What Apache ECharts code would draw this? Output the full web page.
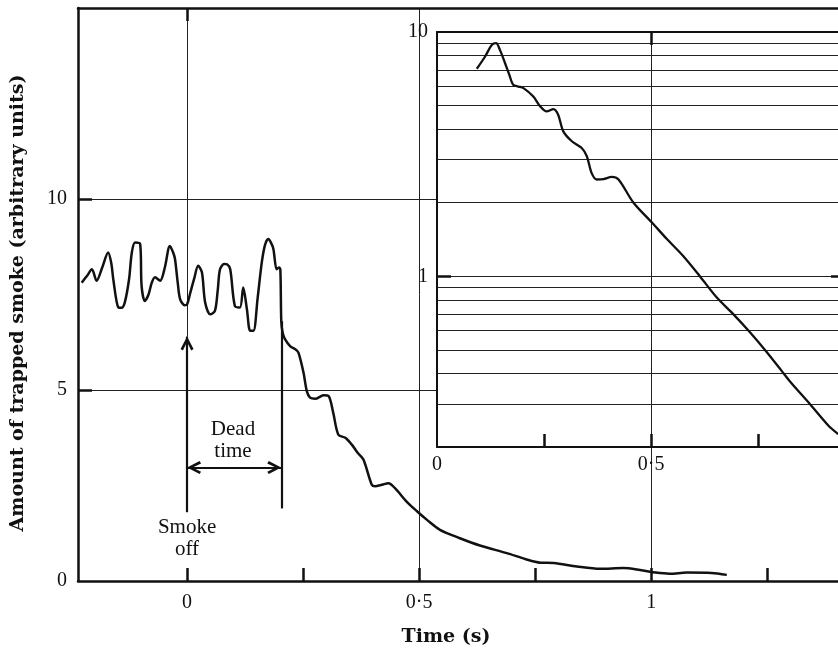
<!DOCTYPE html>
<html><head><meta charset="utf-8">
<script src="https://cdn.jsdelivr.net/npm/echarts@6/dist/echarts.min.js"></script>
<style>html,body{margin:0;padding:0;background:#fff}#c{width:838px;height:655px}</style>
</head><body><div id="c"></div>
<script>
// ---- main trace (linear scale) ----
const mainTime = [-0.227,-0.215,-0.205,-0.195,-0.183,-0.170,-0.163,-0.159,-0.148,-0.141,-0.134,-0.125,-0.119,-0.112,-0.101,-0.098,-0.091,-0.083,-0.076,-0.069,-0.058,-0.048,-0.037,-0.030,-0.026,-0.020,-0.015,-0.005,0.000,0.006,0.015,0.024,0.032,0.039,0.050,0.060,0.066,0.071,0.080,0.086,0.093,0.103,0.114,0.121,0.129,0.136,0.143,0.152,0.161,0.168,0.175,0.181,0.186,0.193,0.198,0.201,0.203,0.206,0.211,0.222,0.233,0.240,0.251,0.258,0.265,0.276,0.294,0.305,0.315,0.326,0.341,0.355,0.368,0.380,0.398,0.405,0.420,0.434,0.448,0.473,0.496,0.517,0.545,0.588,0.631,0.689,0.730,0.761,0.790,0.840,0.890,0.940,0.976,1.010,1.040,1.077,1.130,1.163];
const mainAmount = [7.81,8.00,8.16,7.86,8.20,8.60,8.30,7.90,7.16,7.15,7.30,7.90,8.60,8.86,8.82,7.73,7.33,7.50,7.81,7.95,7.86,8.20,8.77,8.60,8.43,7.80,7.38,7.22,7.24,7.50,7.90,8.25,8.08,7.29,6.98,7.07,7.60,8.16,8.30,8.29,8.16,7.20,7.16,7.68,7.11,6.55,6.55,7.40,8.34,8.80,8.95,8.85,8.69,8.16,8.21,8.15,6.80,6.50,6.33,6.15,6.07,5.98,5.45,4.97,4.80,4.77,4.86,4.84,4.40,3.83,3.75,3.57,3.35,3.18,2.52,2.48,2.52,2.56,2.43,2.08,1.82,1.60,1.34,1.12,0.93,0.73,0.57,0.48,0.47,0.38,0.32,0.34,0.29,0.22,0.19,0.22,0.21,0.16];

// ---- inset trace (log scale) ----
const insetTime = [0.093,0.112,0.128,0.138,0.147,0.159,0.169,0.178,0.190,0.202,0.225,0.241,0.256,0.272,0.283,0.295,0.315,0.338,0.350,0.361,0.373,0.389,0.408,0.424,0.459,0.502,0.537,0.575,0.614,0.653,0.692,0.731,0.770,0.805,0.825,0.871,0.914,0.937];
const insetAmount = [7.07,7.92,8.85,9.00,8.45,7.45,6.67,6.08,5.98,5.89,5.44,4.96,4.73,4.83,4.58,3.92,3.57,3.35,3.10,2.65,2.49,2.50,2.55,2.49,2.00,1.66,1.42,1.21,1.00,0.82,0.70,0.59,0.49,0.41,0.37,0.30,0.245,0.226];

// ---- axes / ticks ----
const mainXLabels = [0, 0.5, 1];
const mainXTicks = [0, 0.25, 0.5, 0.75, 1, 1.25];
const mainXTopTicks = [0];
const mainYLabels = [0, 5, 10];
const mainYTicks = [5, 10];
const mainVGrid = [0.5, 1];
const mainVGridTop = [15, 3.6];
const mainHGrid = [5, 10];
const insetXLabels = [0, 0.5];
const insetXTicks = [0.25, 0.5, 0.75];
const insetXTopTicks = [0.5];
const insetYLabels = [1, 10];
const insetYTicks = [1];
const insetYGrid = [0.3,0.4,0.5,0.6,0.7,0.8,0.9,1,2,3,4,5,6,7,8,9];
const insetVGrid = [0.5];

// ---- annotations ----
const smokeOffTime = 0, smokeOffFrom = 1.8, smokeOffTo = 6.4;
const deadTimeEnd = 0.203, deadTimeLevel = 2.97, deadLineFrom = 1.9, deadLineTo = 6.8;
const annotationTexts = ['Dead\ntime', 'Smoke\noff'];
const annotationPos = [[0.099, 3.67], [0, 1.12]];

const MX = [-0.235, 1.45], MY = [0, 15];
const IX = [0, 0.953], IY = [0.2, 10];
const INK = '#111';
const fmt = v => String(v).replace('.', '\u00b7');
const chevron = 'path://M5 0 L10 9.5 L8.2 10.6 L5 4.2 L1.8 10.6 L0 9.5 Z M5 -10.6 L5.01 -10.6 Z';

function xAxisDef(grid, range, pos, ticks, labels, lw, z, margin) {
  return {
    type: 'value', gridIndex: grid, position: pos, min: range[0], max: range[1], z: z,
    axisLine: { show: true, onZero: false, lineStyle: { color: INK, width: lw } },
    axisTick: { show: ticks.length > 0, inside: true, length: 13, customValues: ticks, lineStyle: { color: INK, width: 2.5 } },
    axisLabel: { show: !!labels, customValues: labels || [], formatter: fmt, margin: margin,
      fontFamily: 'Liberation Serif', fontSize: 20, color: INK },
    splitLine: { show: false }
  };
}

const chart = echarts.init(document.getElementById('c'), null, { renderer: 'canvas' });
const gl = { color: '#222', width: 1, type: 'solid' };

chart.setOption({
  animation: false,
  backgroundColor: '#fff',
  grid: [
    { left: 78, top: 8, width: 782, height: 573, show: false, outerBoundsMode: 'none', containLabel: false },
    { left: 437, top: 32, width: 408, height: 415, show: true, backgroundColor: '#fff', borderWidth: 0, z: 10, outerBoundsMode: 'none', containLabel: false }
  ],
  xAxis: [
    xAxisDef(0, MX, 'bottom', mainXTicks, mainXLabels, 2.5, 2, 12),
    xAxisDef(0, MX, 'top', mainXTopTicks, null, 2.5, 2, 8),
    xAxisDef(1, IX, 'bottom', insetXTicks, insetXLabels, 2, 12, 8),
    xAxisDef(1, IX, 'top', insetXTopTicks, null, 2, 12, 8)
  ],
  yAxis: [
    { type: 'value', gridIndex: 0, min: MY[0], max: MY[1], z: 2,
      axisLine: { show: true, onZero: false, lineStyle: { color: INK, width: 2.5 } },
      axisTick: { show: true, inside: true, length: 14, customValues: mainYTicks, lineStyle: { color: INK, width: 2.5 } },
      axisLabel: { customValues: mainYLabels, margin: 11, fontFamily: 'Liberation Serif', fontSize: 20, color: INK },
      splitLine: { show: false } },
    { type: 'log', logBase: 10, gridIndex: 1, min: IY[0], max: IY[1], z: 12,
      axisLine: { show: true, onZero: false, lineStyle: { color: INK, width: 2 } },
      axisTick: { show: true, inside: true, length: 14, customValues: insetYTicks, lineStyle: { color: INK, width: 2.5 } },
      axisLabel: { customValues: insetYLabels, margin: 9, fontFamily: 'Liberation Serif', fontSize: 20, color: INK },
      splitLine: { show: false }, minorSplitLine: { show: false } },
    { type: 'log', logBase: 10, gridIndex: 1, position: 'right', min: IY[0], max: IY[1], z: 12,
      axisLine: { show: true, onZero: false, lineStyle: { color: INK, width: 2 } },
      axisTick: { show: true, inside: true, length: 14, customValues: insetYTicks, lineStyle: { color: INK, width: 2.5 } },
      axisLabel: { show: false }, splitLine: { show: false } }
  ],
  series: [
    { name: 'mainGrid', type: 'line', xAxisIndex: 0, yAxisIndex: 0, data: [], z: 1, silent: true,
      markLine: { z: 1, silent: true, symbol: ['none', 'none'], label: { show: false }, lineStyle: gl, animation: false,
        data: [[{ coord: [smokeOffTime, smokeOffTo] }, { coord: [smokeOffTime, MY[1]] }]]
          .concat(mainVGrid.map((v, i) => [{ coord: [v, MY[0]] }, { coord: [v, mainVGridTop[i]] }]))
          .concat(mainHGrid.map(v => [{ coord: [MX[0], v] }, { coord: [MX[1], v] }])) } },
    { name: 'main', type: 'line', xAxisIndex: 0, yAxisIndex: 0, z: 3, silent: true,
      data: mainTime.map((t, i) => [t, mainAmount[i]]),
      symbol: 'none', smooth: 0.3, lineStyle: { color: INK, width: 2.5 } },
    { name: 'annot', type: 'line', xAxisIndex: 0, yAxisIndex: 0, data: [], z: 3, silent: true,
      markLine: { z: 4, silent: true, label: { show: false }, animation: false,
        lineStyle: { color: INK, width: 2.2, type: 'solid' }, symbolSize: [13, 28],
        data: [
          [{ coord: [smokeOffTime, smokeOffFrom], symbol: 'none' }, { coord: [smokeOffTime, smokeOffTo], symbol: chevron }],
          [{ coord: [smokeOffTime, deadTimeLevel], symbol: chevron }, { coord: [deadTimeEnd, deadTimeLevel], symbol: chevron }],
          [{ coord: [deadTimeEnd, deadLineFrom], symbol: 'none' }, { coord: [deadTimeEnd, deadLineTo], symbol: 'none' }]
        ] } },
    { name: 'insetGrid', type: 'line', xAxisIndex: 2, yAxisIndex: 1, data: [], z: 11, silent: true,
      markLine: { z: 11, silent: true, symbol: ['none', 'none'], label: { show: false }, lineStyle: gl, animation: false,
        data: insetYGrid.map(v => [{ coord: [IX[0], v] }, { coord: [IX[1], v] }])
          .concat(insetVGrid.map(v => [{ coord: [v, IY[0]] }, { coord: [v, IY[1]] }])) } },
    { name: 'inset', type: 'line', xAxisIndex: 2, yAxisIndex: 1, z: 13, silent: true,
      data: insetTime.map((t, i) => [t, insetAmount[i]]),
      symbol: 'none', smooth: 0.3, lineStyle: { color: INK, width: 2.3 } }
  ]
});

const annotGraphics = annotationPos.map((p, i) => {
  const px = chart.convertToPixel({ gridIndex: 0 }, p);
  return { type: 'text', x: px[0], y: px[1], silent: true, z: 20,
    style: { text: annotationTexts[i], font: '21px "Liberation Serif"', lineHeight: 22, fill: INK,
      textAlign: 'center', textVerticalAlign: 'middle', align: 'center', verticalAlign: 'middle' } };
});
chart.setOption({ graphic: [
  { type: 'text', x: 446, y: 637, silent: true,
    style: { text: 'Time (s)', font: 'bold 19px "DejaVu Serif"', fill: INK, textAlign: 'center', textVerticalAlign: 'middle', align: 'center', verticalAlign: 'middle' } },
  { type: 'text', x: 18, y: 303, rotation: Math.PI / 2, silent: true,
    style: { text: 'Amount of trapped smoke (arbitrary units)', font: 'bold 19px "DejaVu Serif"', fill: INK, textAlign: 'center', textVerticalAlign: 'middle', align: 'center', verticalAlign: 'middle' } }
].concat(annotGraphics) });
</script></body></html>
